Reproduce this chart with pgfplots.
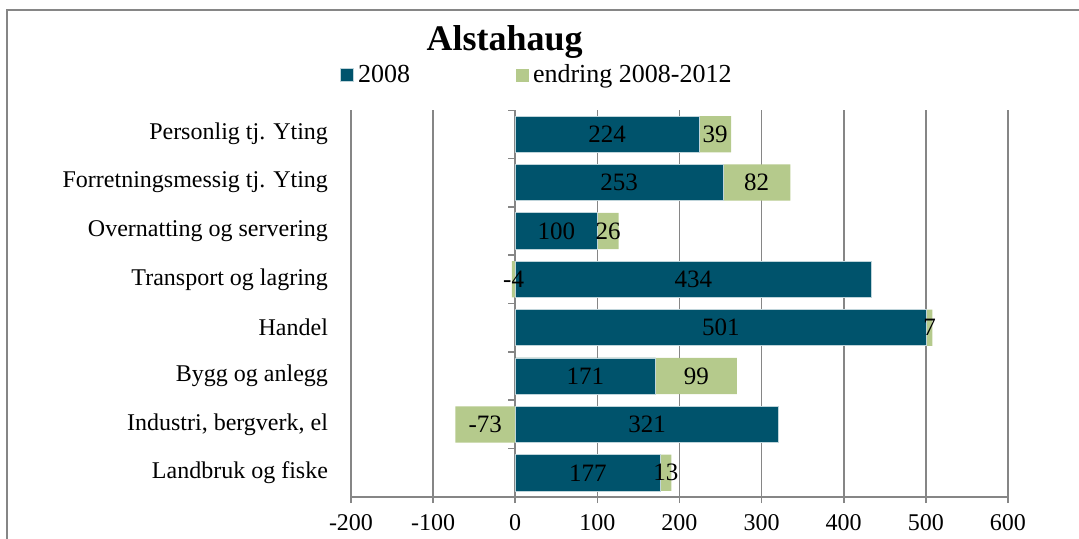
\documentclass[border=0pt]{standalone}
\usepackage{fontspec}
\setmainfont{Liberation Serif}
\usepackage{pgfplots}
\usepackage{pgfplotstable}
\pgfplotsset{compat=1.18}

\definecolor{blu}{RGB}{0,83,108}
\definecolor{grn}{RGB}{181,202,140}
\definecolor{gridc}{RGB}{134,134,134}

% y: category position (0 = bottom), a: 2008, d: endring 2008-2012
\pgfplotstableread{
y a d
0 177 13
1 321 -73
2 171 99
3 501 7
4 434 -4
5 100 26
6 253 82
7 224 39
}\data

\begin{document}
\begin{tikzpicture}
\useasboundingbox (-175.5pt,-20.5pt) rectangle (364pt,248.5pt);
\draw[gridc, line width=1pt] (-172pt,-30pt) -- (-172pt,243.5pt) -- (380pt,243.5pt);
\begin{axis}[
  scale only axis, width=328.5pt, height=193.5pt,
  xmin=-200, xmax=600, ymin=-0.5, ymax=7.5,
  xtick={-200,-100,...,600},
  ytick={0,...,7},
  yticklabels={Landbruk og fiske, {Industri, bergverk, el}, Bygg og anlegg, Handel,
    Transport og lagring, Overnatting og servering, Forretningsmessig tj. Yting, Personlig tj. Yting},
  /pgf/number format/assume math mode=true,
  axis x line*=bottom, axis y line*=left,
  axis line style={-, gridc, line width=0.8pt},
  y axis line style={draw=none},
  tick align=outside, major tick length=3pt,
  xtick style={gridc, line width=0.8pt},
  ytick style={draw=none},
  tick label style={font=\fontsize{12}{14}\selectfont},
  xticklabel style={yshift=-2pt},
  yticklabel style={xshift=-5pt},
  xmajorgrids, grid style={gridc, line width=0.8pt},
  title={Alstahaug},
  title style={font=\fontsize{18}{20}\selectfont\bfseries, at={(axis description cs:0.234,1.145)}, anchor=center},
  legend columns=2,
  legend style={draw=none, fill=none, inner sep=0pt,
    at={(axis description cs:-0.017,1.09)}, anchor=west,
    font=\fontsize{13}{15}\selectfont,
    /tikz/every even column/.append style={column sep=51pt}},
  legend image code/.code={\fill[#1] (0pt,-3.25pt) rectangle (6.5pt,3.25pt);},
  every node near coord/.append style={anchor=center, font=\fontsize{12.5}{14}\selectfont, text=black},
]
\draw[gridc, line width=0.8pt] (axis cs:0,-0.5) -- (axis cs:0,7.5);
\pgfplotsinvokeforeach{-0.5,0.5,1.5,2.5,3.5,4.5,5.5,6.5,7.5}{
  \draw[gridc, line width=0.8pt] (axis cs:0,#1) -- ++(-3.5pt,0pt);
}
% green drawn behind: to a+d when d>0, from 0 to d when d<0
\addplot[xbar, bar width=0.75, bar shift=0pt, fill=grn, draw=none, forget plot]
  table[x expr={ifthenelse(\thisrow{d}>0,\thisrow{a}+\thisrow{d},\thisrow{d})}, y=y] {\data};
\addplot[xbar, bar width=0.75, bar shift=0pt, fill=blu, draw=white!75!blu, line width=0.4pt]
  table[x=a, y=y] {\data};
\addlegendentry{2008}
\addlegendimage{fill=grn, draw=none}
\addlegendentry{endring 2008-2012}
\addplot[draw=none, mark=none, forget plot, nodes near coords, point meta=explicit]
  table[x expr={\thisrow{a}/2}, y=y, meta=a] {\data};
\addplot[draw=none, mark=none, forget plot, nodes near coords, point meta=explicit]
  table[x expr={ifthenelse(\thisrow{d}>0,\thisrow{a}+\thisrow{d}/2,\thisrow{d}/2)}, y=y, meta=d] {\data};
\end{axis}
\end{tikzpicture}
\end{document}
